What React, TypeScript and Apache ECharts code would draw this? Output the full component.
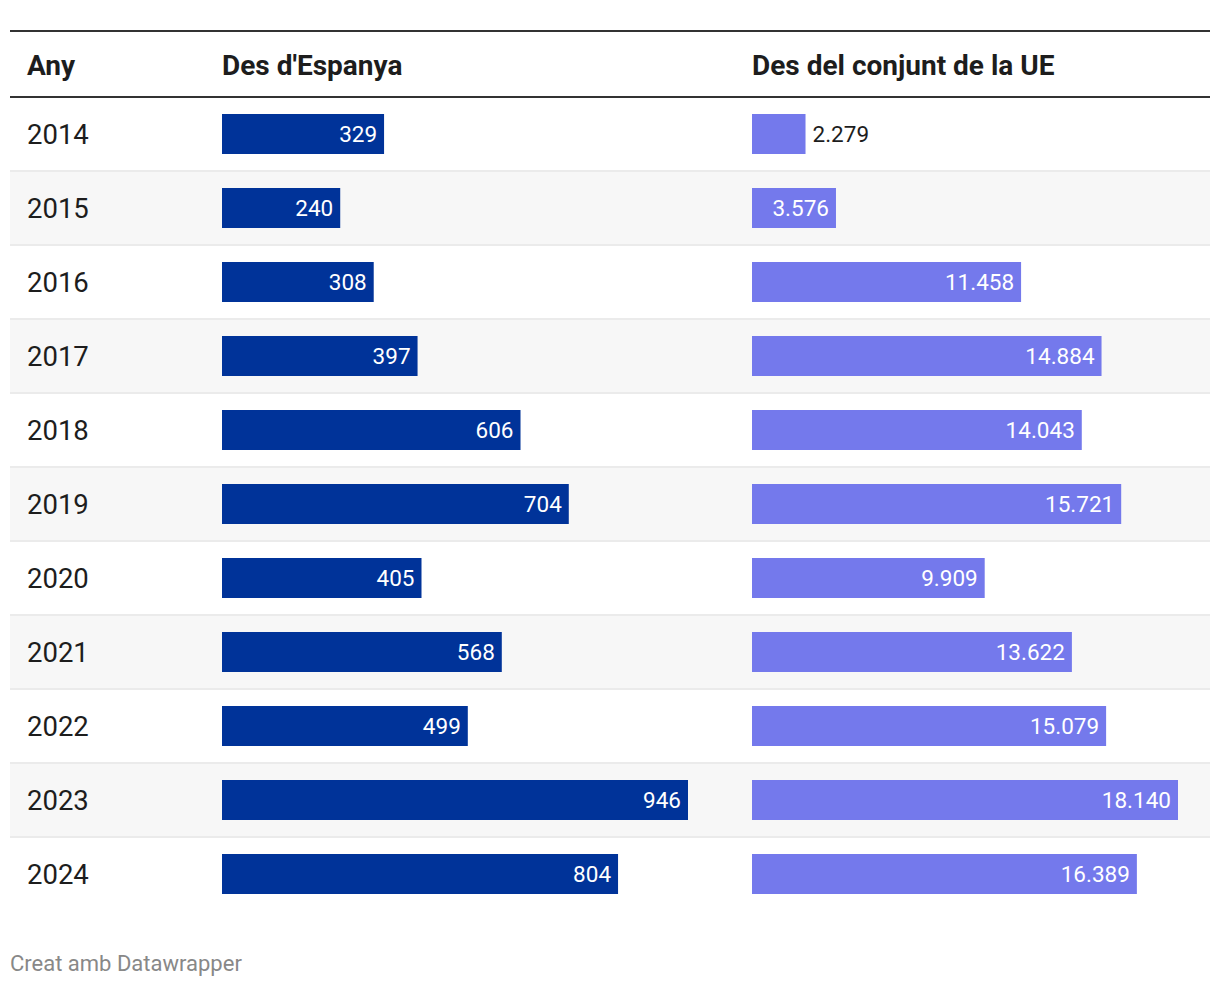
import React, { useEffect, useRef } from 'react';
import * as echarts from 'echarts';

const years = ['2014', '2015', '2016', '2017', '2018', '2019', '2020', '2021', '2022', '2023', '2024'];
const spainValues = [329, 240, 308, 397, 606, 704, 405, 568, 499, 946, 804];
const euValues = [2279, 3576, 11458, 14884, 14043, 15721, 9909, 13622, 15079, 18140, 16389];
const headers = ['Any', "Des d'Espanya", 'Des del conjunt de la UE'];
const footerText = 'Creat amb Datawrapper';

const FONT = 'Roboto, "Noto Sans", sans-serif';

const fmt = (n: number) => String(n).replace(/\B(?=(\d{3})+(?!\d))/g, '.');

export default function App() {
  const ref = useRef<HTMLDivElement>(null);

  useEffect(() => {
    document.body.style.margin = '0';
    const chart = echarts.init(ref.current!, null, { renderer: 'svg' });
    const top = 97;
    const rowH = 74;
    const height = rowH * years.length;
    const baseLabel = {
      show: true,
      position: 'insideRight',
      distance: 7,
      color: '#ffffff',
      fontSize: 22.5,
      fontFamily: FONT,
      formatter: (p: any) => fmt(p.value),
    };
    const euData = euValues.map((v) =>
      v < 3000
        ? { value: v, label: { position: 'right', color: '#1d1d1d', distance: 7 } }
        : { value: v }
    );
    // background stripes: all rows but the last (last row is white and has no bottom rule)
    const stripeRows = years.slice(0, -1);
    chart.setOption({
      animation: false,
      backgroundColor: '#ffffff',
      grid: [
        { left: 10, top, width: 1200, height: rowH * stripeRows.length, containLabel: false },
        { left: 222, top, width: 466, height, containLabel: false },
        { left: 752, top, width: 426, height, containLabel: false },
      ],
      xAxis: [
        { gridIndex: 0, type: 'value', min: 0, max: 1, show: false },
        { gridIndex: 1, type: 'value', min: 0, max: 946, show: false },
        { gridIndex: 2, type: 'value', min: 0, max: 18140, show: false },
      ],
      yAxis: [
        {
          gridIndex: 0,
          type: 'category',
          inverse: true,
          data: stripeRows,
          axisLine: { show: false },
          axisTick: { show: false },
          axisLabel: { show: false },
          splitLine: {
            show: true,
            interval: (idx: number) => idx >= 1,
            lineStyle: { color: '#ebebeb', width: 2 },
          },
          splitArea: {
            show: true,
            interval: 0,
            areaStyle: { color: ['#ffffff', '#f7f7f7'] },
          },
        },
        {
          gridIndex: 1,
          type: 'category',
          inverse: true,
          data: years,
          axisLine: { show: false },
          axisTick: { show: false },
          splitLine: { show: false },
          axisLabel: {
            show: true,
            align: 'left',
            margin: 195,
            color: '#1d1d1d',
            fontSize: 27.5,
            fontFamily: FONT,
            padding: [2, 0, 0, 0],
          },
        },
        {
          gridIndex: 2,
          type: 'category',
          inverse: true,
          data: years,
          show: false,
        },
      ],
      series: [
        {
          type: 'bar',
          xAxisIndex: 1,
          yAxisIndex: 1,
          data: spainValues,
          barWidth: 40,
          itemStyle: { color: '#003399' },
          label: baseLabel,
        },
        {
          type: 'bar',
          xAxisIndex: 2,
          yAxisIndex: 2,
          data: euData,
          barWidth: 40,
          itemStyle: { color: '#7479ec' },
          label: baseLabel,
        },
      ],
      graphic: [
        { type: 'rect', shape: { x: 10, y: 30, width: 1200, height: 2 }, style: { fill: '#333333' }, z: 100 },
        { type: 'rect', shape: { x: 10, y: 96, width: 1200, height: 2 }, style: { fill: '#333333' }, z: 100 },
        { type: 'text', x: 27, y: 65, style: { text: headers[0], fontSize: 28, fontWeight: 'bold', fontFamily: FONT, fill: '#1d1d1d', verticalAlign: 'middle' } },
        { type: 'text', x: 222, y: 65, style: { text: headers[1], fontSize: 28, fontWeight: 'bold', fontFamily: FONT, fill: '#1d1d1d', verticalAlign: 'middle' } },
        { type: 'text', x: 752, y: 65, style: { text: headers[2], fontSize: 28, fontWeight: 'bold', fontFamily: FONT, fill: '#1d1d1d', verticalAlign: 'middle' } },
        { type: 'text', x: 10, y: 963, style: { text: footerText, fontSize: 22, fontFamily: FONT, fill: '#888888', verticalAlign: 'middle' } },
      ],
    });
    return () => chart.dispose();
  }, []);

  return <div ref={ref} style={{ width: 1220, height: 986 }} />;
}
